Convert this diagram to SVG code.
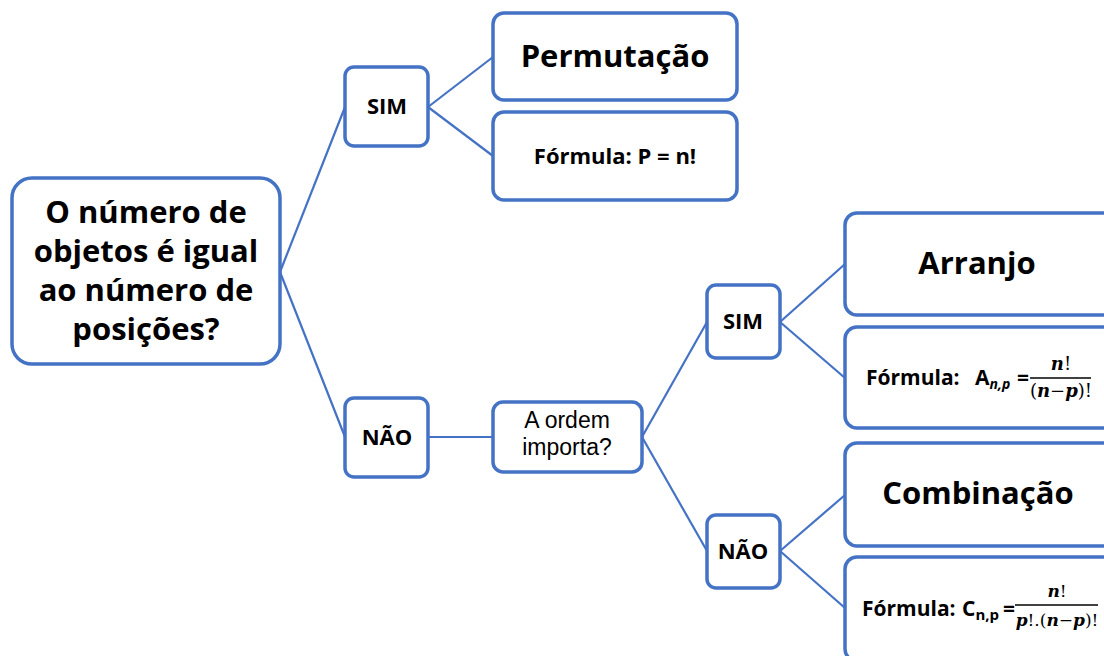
<svg xmlns="http://www.w3.org/2000/svg" width="1104" height="656" viewBox="0 0 1104 656">
<style>
.box{fill:#fff;stroke:#4472C4;stroke-width:3.5}
.ln{stroke:#4472C4;stroke-width:2.2;fill:none}
.t{font-family:"Open Sans","Liberation Sans",sans-serif;font-weight:700;fill:#000;text-anchor:middle}
.ts{font-family:"Open Sans","Liberation Sans",sans-serif;font-weight:700;fill:#000;text-anchor:start}
.r{font-family:"Liberation Sans","Open Sans",sans-serif;font-weight:400;fill:#000;text-anchor:middle}
.m{font-family:"DejaVu Serif","Liberation Serif",serif;font-weight:700;font-style:italic;fill:#000}
.mu{font-family:"DejaVu Serif","Liberation Serif",serif;font-weight:400;fill:#000}
</style>
<rect width="1104" height="656" fill="#fff"/>
<g id="connectors">
<line class="ln" x1="280" y1="272" x2="345" y2="107"/>
<line class="ln" x1="280" y1="272" x2="345" y2="437"/>
<line class="ln" x1="428" y1="107" x2="493" y2="57"/>
<line class="ln" x1="428" y1="107" x2="493" y2="156"/>
<line class="ln" x1="428" y1="437" x2="493" y2="437"/>
<line class="ln" x1="642" y1="437" x2="707" y2="322"/>
<line class="ln" x1="642" y1="437" x2="707" y2="551"/>
<line class="ln" x1="780" y1="322" x2="845" y2="264"/>
<line class="ln" x1="780" y1="322" x2="845" y2="378"/>
<line class="ln" x1="780" y1="551" x2="845" y2="495"/>
<line class="ln" x1="780" y1="551" x2="845" y2="608"/>
</g>
<g id="main">
<rect class="box" x="12" y="178" width="268" height="186" rx="20"/>
<text class="t" font-size="31" x="146" y="223">O número de</text>
<text class="t" font-size="31" x="146" y="262">objetos é igual</text>
<text class="t" font-size="31" x="146" y="301">ao número de</text>
<text class="t" font-size="31" x="146" y="340">posições?</text>
</g>
<g id="sim1">
<rect class="box" x="345" y="67" width="83" height="79" rx="9"/>
<text class="t" font-size="22" x="387" y="114">SIM</text>
</g>
<g id="nao1">
<rect class="box" x="345" y="398" width="83" height="79" rx="9"/>
<text class="t" font-size="22" x="387" y="445">NÃO</text>
</g>
<g id="permutacao">
<rect class="box" x="493" y="13" width="244" height="87" rx="11"/>
<text class="t" font-size="31" x="615" y="67">Permutação</text>
</g>
<g id="formulaP">
<rect class="box" x="493" y="112" width="244" height="88" rx="11"/>
<text class="t" font-size="22" x="615" y="164">Fórmula: P = n!</text>
</g>
<g id="ordem">
<rect class="box" x="493" y="402" width="149" height="70" rx="10"/>
<text class="r" font-size="23" x="567" y="428">A ordem</text>
<text class="r" font-size="23" x="567" y="455">importa?</text>
</g>
<g id="sim2">
<rect class="box" x="707" y="285" width="73" height="73" rx="9"/>
<text class="t" font-size="22" x="743" y="329">SIM</text>
</g>
<g id="nao2">
<rect class="box" x="707" y="515" width="73" height="73" rx="9"/>
<text class="t" font-size="22" x="743" y="559">NÃO</text>
</g>
<g id="arranjo">
<rect class="box" x="845" y="213" width="275" height="102" rx="12"/>
<text class="t" font-size="31" x="977" y="274">Arranjo</text>
</g>
<g id="formulaA">
<rect class="box" x="845" y="327" width="275" height="101" rx="12"/>
<text class="ts" font-size="21" x="866" y="385">Fórmula:</text>
<text class="ts" font-size="21" x="975" y="385">A<tspan font-size="14" font-style="italic" dy="4">n,p</tspan></text>
<text class="ts" font-size="21" x="1017" y="385">=</text>
<line x1="1030" y1="378" x2="1091" y2="378" stroke="#000" stroke-width="1.4"/>
<text x="1061" y="370" font-size="18" text-anchor="middle"><tspan class="m">n</tspan><tspan class="mu">!</tspan></text>
<text x="1061" y="397" font-size="18" text-anchor="middle"><tspan class="mu">(</tspan><tspan class="m">n</tspan><tspan class="mu">−</tspan><tspan class="m">p</tspan><tspan class="mu">)!</tspan></text>
</g>
<g id="combinacao">
<rect class="box" x="845" y="443" width="275" height="103" rx="12"/>
<text class="t" font-size="31" x="978" y="504">Combinação</text>
</g>
<g id="formulaC">
<rect class="box" x="845" y="557" width="275" height="104" rx="12"/>
<text class="ts" font-size="21" x="862" y="616">Fórmula:</text>
<text class="ts" font-size="21" x="962" y="616">C<tspan font-size="15" dy="4">n,p</tspan></text>
<text class="ts" font-size="21" x="1003" y="616">=</text>
<line x1="1015" y1="605" x2="1098" y2="605" stroke="#000" stroke-width="1.4"/>
<text x="1057" y="597" font-size="17" text-anchor="middle"><tspan class="m">n</tspan><tspan class="mu">!</tspan></text>
<text x="1057" y="626" font-size="17" text-anchor="middle"><tspan class="m">p</tspan><tspan class="mu">!.(</tspan><tspan class="m">n</tspan><tspan class="mu">−</tspan><tspan class="m">p</tspan><tspan class="mu">)!</tspan></text>
</g>
</svg>
